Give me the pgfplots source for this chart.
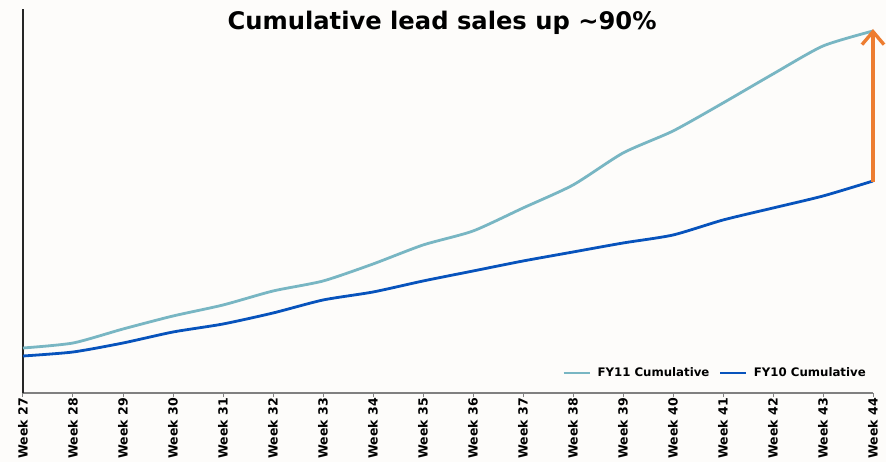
\documentclass[border=0pt]{standalone}
\usepackage{pgfplots}
\pgfplotsset{compat=1.18}
\usepackage{fontspec}
\setmainfont{DejaVu Sans}
\usetikzlibrary{calc,arrows.meta,backgrounds}
\definecolor{fyeleven}{HTML}{78B6C3}
\definecolor{fyten}{HTML}{0753BC}
\definecolor{arroworange}{HTML}{ED7D31}
\definecolor{bg}{HTML}{FDFCFA}
\begin{document}
\begin{tikzpicture}
\begin{axis}[
  at={(0,0)}, anchor=south west,
  scale only axis, width=850bp, height=384bp,
  xmin=27, xmax=44, ymin=0, ymax=384,
  axis x line=bottom, axis y line=left,
  x axis line style={draw=gray, line width=1.2bp, -},
  y axis line style={draw=black!85, line width=1.2bp, -},
  xtick={27,...,44},
  xticklabels={Week 27,Week 28,Week 29,Week 30,Week 31,Week 32,Week 33,Week 34,Week 35,Week 36,Week 37,Week 38,Week 39,Week 40,Week 41,Week 42,Week 43,Week 44},
  ytick=\empty,
  x tick label style={rotate=90, anchor=east, font=\fontsize{12.6}{14}\selectfont\bfseries, inner sep=1bp, xshift=0bp},
  xtick style={draw=gray, line width=1bp},
  tick align=outside, major tick length=4bp,
  clip=false,
  legend style={draw=none, fill=none, at={(rel axis cs:0.997,0.052)}, anchor=east,
    font=\fontsize{11.8}{14}\selectfont\bfseries, column sep=8bp, nodes={inner xsep=1.5bp}},
  legend columns=2,
  legend image post style={line width=2.8bp},
  legend image code/.code={\draw[#1, overlay] (0cm,0cm) -- (0.92cm,0cm); \path (0cm,0cm) -- (0.8cm,0cm);},
]
\addplot[fyeleven, line width=2.8bp, smooth, tension=0.4] coordinates {
(27,45) (28,50) (29,64) (30,77) (31,88) (32,102) (33,112) (34,129) (35,148) (36,162)
(37,185) (38,208) (39,240) (40,262) (41,290) (42,319) (43,347) (44,362)};
\addlegendentry{FY11 Cumulative}
\addplot[fyten, line width=2.8bp, smooth, tension=0.4] coordinates {
(27,37) (28,41) (29,50) (30,61) (31,69) (32,80) (33,93) (34,101) (35,112) (36,122)
(37,132) (38,141) (39,150) (40,158) (41,173) (42,185) (43,197) (44,212)};
\addlegendentry{FY10 Cumulative}
\draw[arroworange, line width=3.4bp, -{Straight Barb[length=13bp, width=22bp, line width=3.4bp]}]
  (axis cs:44,211) -- (axis cs:44,364);
\node[font=\fontsize{24.3}{28}\selectfont\bfseries] at (rel axis cs:0.493,0.964) {Cumulative lead sales up \textasciitilde90\%};
\end{axis}
\pgfresetboundingbox
\path[use as bounding box] ($(current axis.south west)+(-23bp,-69bp)$) rectangle ($(current axis.north east)+(13bp,9bp)$);
\begin{scope}[on background layer]
\fill[bg] ($(current axis.south west)+(-23bp,-69bp)$) rectangle ($(current axis.north east)+(13bp,9bp)$);
\end{scope}
\end{tikzpicture}
\end{document}
